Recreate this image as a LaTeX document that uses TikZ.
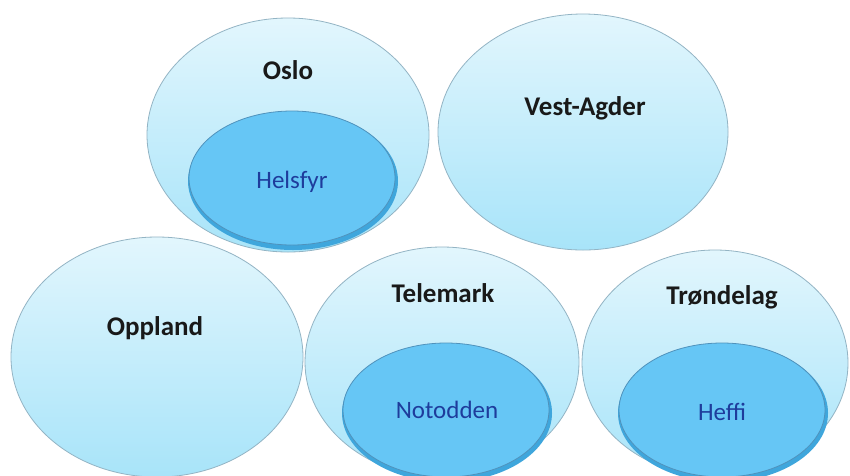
\documentclass[tikz,border=0pt]{standalone}
\usepackage{fontspec}
\setmainfont{Carlito}
\usetikzlibrary{shapes.geometric}
\definecolor{outtop}{HTML}{E2F6FD}
\definecolor{outbot}{HTML}{A8E4F9}
\definecolor{outline}{HTML}{93B4C4}
\definecolor{infill}{HTML}{66C6F5}
\definecolor{inedge}{HTML}{4F92BC}
\definecolor{inshadow}{HTML}{3FA6DC}
\definecolor{intext}{HTML}{1E3C9C}
\tikzset{
  region/.style={ellipse, draw=outline, line width=0.8pt, top color=outtop, bottom color=outbot, inner sep=0pt},
  place/.style={ellipse, draw=inedge, line width=0.8pt, fill=infill, inner sep=0pt},
  placeshadow/.style={ellipse, fill=inshadow, inner sep=0pt},
  regionlabel/.style={font=\fontsize{27}{31}\selectfont\bfseries, text=black!90},
  placelabel/.style={font=\fontsize{25}{29}\selectfont, text=intext}
}
\begin{document}
\begin{tikzpicture}[x=1pt,y=-1pt]
\useasboundingbox (0,0) rectangle (850,475);
\fill[white] (0,0) rectangle (850,475);
\clip (0,0) rectangle (850,475);
% bottom row
\node[region, minimum width=292pt, minimum height=240pt] (oppland) at (157,357) {};
\node[region, minimum width=274pt, minimum height=230pt] (telemark) at (442,362) {};
\node[region, minimum width=266pt, minimum height=226pt] (trondelag) at (715,363) {};
% top row
\node[region, minimum width=282pt, minimum height=234pt] (oslo) at (288,135) {};
\node[region, minimum width=290pt, minimum height=236pt] (vestagder) at (583,132) {};
% inner places
\node[placeshadow, minimum width=210pt, minimum height=138pt] (helsfyrsh) at (293,181) {};
\node[place, minimum width=206pt, minimum height=134pt] (helsfyr) at (292,178) {};
\node[placeshadow, minimum width=210pt, minimum height=138pt] (notoddensh) at (447,413) {};
\node[place, minimum width=206pt, minimum height=134pt] (notodden) at (446,410) {};
\node[placeshadow, minimum width=210pt, minimum height=138pt] (heffish) at (723,413) {};
\node[place, minimum width=206pt, minimum height=134pt] (heffi) at (722,410) {};
% labels
\node[regionlabel] (osloL) at (288,70) {Oslo};
\node[regionlabel] (vestL) at (585,108) {Vest-Agder};
\node[regionlabel] (opplandL) at (155,328) {Oppland};
\node[regionlabel] (telemarkL) at (443,293) {Telemark};
\node[regionlabel] (trondelagL) at (722,297) {Trøndelag};
\node[placelabel] (helsfyrL) at (292,182) {Helsfyr};
\node[placelabel] (notoddenL) at (447,410) {Notodden};
\node[placelabel] (heffiL) at (722,412) {Heffi};
\end{tikzpicture}
\end{document}
